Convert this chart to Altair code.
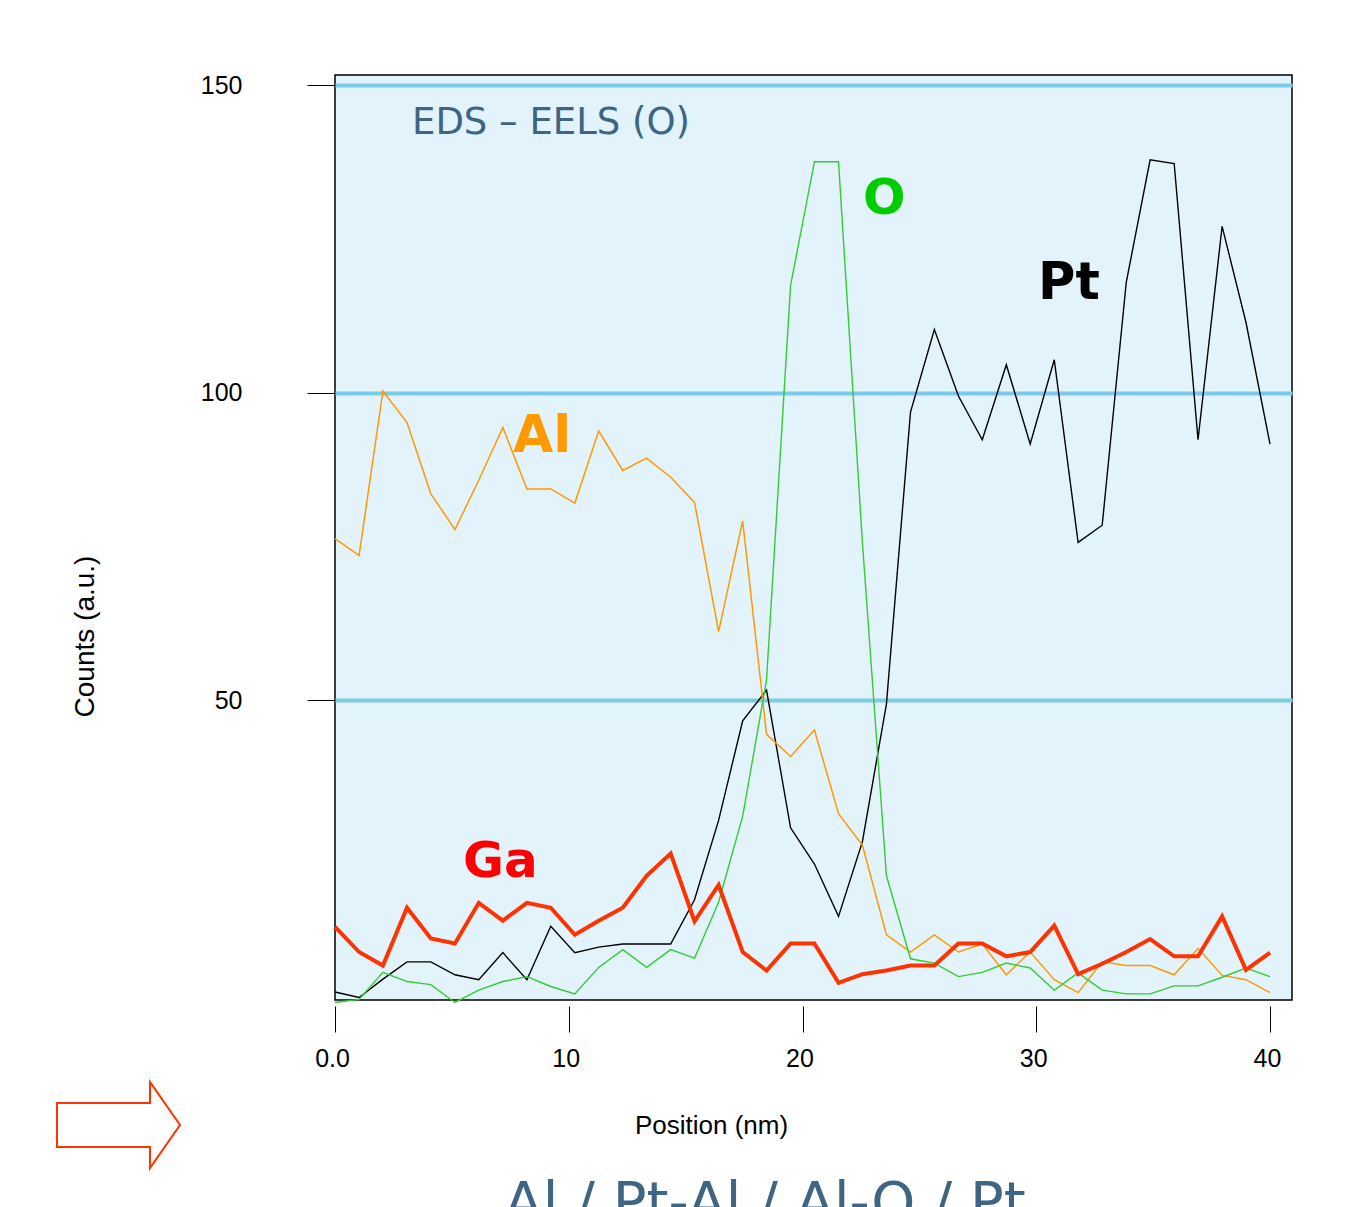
import altair as alt
import pandas as pd

# ---- data ----
position_nm = [0.0, 1.03, 2.05, 3.08, 4.10, 5.13, 6.15, 7.18, 8.21, 9.23,
               10.26, 11.28, 12.31, 13.33, 14.36, 15.38, 16.41, 17.44, 18.46, 19.49,
               20.51, 21.54, 22.56, 23.59, 24.62, 25.64, 26.67, 27.69, 28.72, 29.74,
               30.77, 31.79, 32.82, 33.85, 34.87, 35.90, 36.92, 37.95, 38.97, 40.0]

pt_counts = [2.6, 1.7, 4.7, 7.5, 7.5, 5.4, 4.6, 9.0, 4.6, 13.3,
             9.0, 9.9, 10.4, 10.4, 10.4, 17.6, 30.5, 46.7, 51.7, 29.3,
             23.4, 14.9, 27.0, 49.4, 96.9, 110.3, 99.5, 92.4, 104.6, 91.7,
             105.4, 75.7, 78.5, 118.0, 137.9, 137.3, 92.4, 127.1, 111.5, 91.7]

al_counts = [76.3, 73.6, 100.3, 95.2, 83.6, 77.8, 85.8, 94.4, 84.4, 84.4,
             82.1, 93.8, 87.4, 89.4, 86.3, 82.2, 61.2, 79.2, 44.5, 40.9,
             45.2, 31.6, 26.5, 11.9, 9.1, 11.9, 9.1, 10.4, 5.4, 9.1,
             4.6, 2.5, 7.5, 6.9, 6.9, 5.4, 9.7, 5.3, 4.6, 2.5]

o_counts = [0.9, 1.4, 5.8, 4.3, 3.8, 0.9, 2.9, 4.3, 5.1, 3.5,
            2.3, 6.6, 9.5, 6.6, 9.5, 8.1, 17.2, 31.2, 53.3, 117.5,
            137.6, 137.6, 75.8, 21.5, 8.0, 7.3, 5.1, 5.8, 7.3, 6.5,
            2.9, 5.7, 2.9, 2.3, 2.3, 3.6, 3.6, 5.0, 6.5, 5.1]

ga_counts = [13.2, 9.1, 6.9, 16.3, 11.3, 10.5, 17.1, 14.2, 17.1, 16.3,
             11.9, 14.2, 16.3, 21.5, 25.1, 14.1, 20.0, 9.1, 6.1, 10.5,
             10.5, 4.1, 5.5, 6.1, 6.9, 6.9, 10.5, 10.5, 8.4, 9.1,
             13.4, 5.5, 7.2, 9.1, 11.2, 8.4, 8.4, 14.9, 6.2, 9.0]

x_ticks = [0, 10, 20, 30, 40]
y_ticks = [50, 100, 150]

series_order = ["Pt", "Al", "O", "Ga"]
line_colors = {"Pt": "#000000", "Al": "#FF9900", "O": "#33CC33", "Ga": "#FF3300"}
line_widths = {"Pt": 1.4, "Al": 1.5, "O": 1.4, "Ga": 4}

df = pd.DataFrame({"pos": position_nm, "Pt": pt_counts, "Al": al_counts,
                   "O": o_counts, "Ga": ga_counts})
long = df.melt("pos", var_name="element", value_name="counts")

AXIS_FONT = "Liberation Sans"
x_scale = alt.Scale(domain=[0, 40.94], nice=False, zero=False)
y_scale = alt.Scale(domain=[1.3, 151.7], nice=False, zero=False)

x_axis = alt.Axis(values=x_ticks,
                  labelExpr="datum.value == 0 ? '0.0' : datum.label",
                  grid=False, domain=False, ticks=True, tickSize=26, offset=6,
                  tickColor="black", tickWidth=1,
                  labelFont=AXIS_FONT, labelFontSize=25, labelColor="black",
                  labelPadding=14, labelFlush=False, labelOffset=-3,
                  title="Position (nm)", titleFont=AXIS_FONT, titleFontSize=26,
                  titleFontWeight="normal", titleColor="black",
                  titleX=376, titleY=119, titleAlign="center", titleBaseline="middle")

y_axis = alt.Axis(values=y_ticks, grid=True, gridColor="#7BCAE8", gridWidth=4,
                  domain=False, ticks=True, tickSize=28, tickColor="black", tickWidth=1,
                  labelFont=AXIS_FONT, labelFontSize=25, labelColor="black",
                  labelPadding=65,
                  title="Counts (a.u.)", titleFont=AXIS_FONT, titleFontSize=28,
                  titleFontWeight="normal", titleColor="black",
                  titleX=-250, titleY=561, titleAngle=270,
                  titleAlign="center", titleBaseline="middle")

layers = []
for name in series_order:
    layers.append(
        alt.Chart(long).transform_filter(alt.datum.element == name)
        .mark_line(color=line_colors[name], strokeWidth=line_widths[name],
                   strokeJoin="miter", clip=False)
        .encode(x=alt.X("pos:Q", scale=x_scale, axis=x_axis),
                y=alt.Y("counts:Q", scale=y_scale, axis=y_axis),
                order="pos:Q")
    )

one = pd.DataFrame({"k": [0]})

def label(text, px, py, size, color, weight="bold", font="DejaVu Sans",
          align="left", baseline="alphabetic"):
    return alt.Chart(one).mark_text(
        text=text, font=font, fontSize=size, fontWeight=weight, color=color,
        align=align, baseline=baseline, clip=False
    ).encode(x=alt.value(px), y=alt.value(py))

annotations = [
    label("EDS \u2013 EELS (O)", 77, 59, 37, "#3E6584", weight="normal"),
    label("Al", 178, 377, 52, "#FF9900"),
    label("O", 528, 139, 50, "#00CC00"),
    label("Pt", 703, 224, 51, "#000000"),
    label("Ga", 128, 802, 50, "#FF0000"),
    label("Al / Pt-Al / Al-O / Pt", 430, 1146, 56, "#3E6584",
          weight="normal", align="center"),
]

arrow_path = ("M -1 -0.358 L 0.512 -0.358 L 0.512 -0.70 L 1 0 "
              "L 0.512 0.70 L 0.512 0.358 L -1 0.358 Z")
arrow = alt.Chart(one).mark_point(
    shape=arrow_path, size=15129, filled=True, fill="white",
    stroke="#FF3300", strokeWidth=2, opacity=1, clip=False
).encode(x=alt.value(-216.5), y=alt.value(1050))

chart = alt.layer(*layers, *annotations, arrow).properties(
    width=957, height=925,
    autosize=alt.AutoSizeParams(type="none"),
    padding={"left": 327, "top": 67, "right": 64, "bottom": 207},
    background="white",
).configure_view(fill="#E2F3FB", stroke="black", strokeWidth=1.5)

chart.save("out.html", embed_options={"renderer": "svg", "actions": False})
